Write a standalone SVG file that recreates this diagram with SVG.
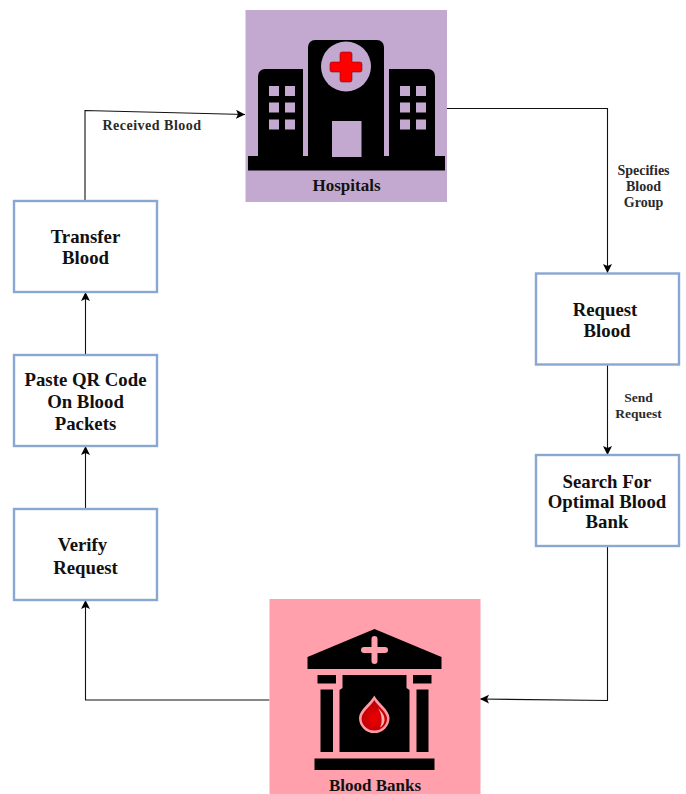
<svg xmlns="http://www.w3.org/2000/svg" width="686" height="794" viewBox="0 0 686 794">
<style>
.box{fill:#fff;stroke:#8aa6d3;stroke-width:2.4}
.t{font-family:"Liberation Serif","Times New Roman",serif;font-weight:bold;text-anchor:middle;fill:#111}
.n{font-size:18.800px}
.l{font-size:14px;fill:#2a2a2a}
.s{font-size:13.500px}
.c{fill:none;stroke:#111;stroke-width:1.1}
</style>
<defs>
<marker id="a" markerUnits="userSpaceOnUse" markerWidth="11" markerHeight="11" refX="9" refY="4.500" orient="auto"><path d="M0 0L9 4.500L0 9L2 4.500Z" fill="#000"/></marker>
<radialGradient id="dr" cx="50%" cy="60%" r="55%"><stop offset="0" stop-color="#f00000"/><stop offset="1" stop-color="#b80008"/></radialGradient>
</defs>
<g id="connectors">
<path class="c" d="M85 200V110.500L245 114.500" marker-end="url(#a)"/>
<path class="c" d="M447 108.500H607.500V273" marker-end="url(#a)"/>
<path class="c" d="M607.500 364V455" marker-end="url(#a)"/>
<path class="c" d="M607.500 546V700.500L480 699" marker-end="url(#a)"/>
<path class="c" d="M269.500 700H85.500V600" marker-end="url(#a)"/>
<path class="c" d="M85.500 509V446" marker-end="url(#a)"/>
<path class="c" d="M85.500 355V292" marker-end="url(#a)"/>
</g>
<g id="label-received"><text class="t l" x="152" y="130" letter-spacing=".5">Received Blood</text></g>
<g id="label-specifies"><text class="t l" x="643.500" y="175">Specifies</text><text class="t l" x="643.500" y="191">Blood</text><text class="t l" x="643.500" y="207">Group</text></g>
<g id="label-send"><text class="t l s" x="638.500" y="402">Send</text><text class="t l s" x="638.500" y="418">Request</text></g>
<g id="hospitals">
<rect x="245.500" y="10" width="201.500" height="192" fill="#c3a9cf"/>
<rect x="248" y="156" width="197" height="14.500" fill="#000"/>
<path d="M258 157V76a7 7 0 0 1 7-7H303V157Z" fill="#000"/>
<path d="M435 157V76a7 7 0 0 0-7-7H389V157Z" fill="#000"/>
<path d="M308 157V47a7 7 0 0 1 7-7H377a7 7 0 0 1 7 7V157Z" fill="#000"/>
<g fill="#c3a9cf">
<circle cx="346" cy="66.500" r="25"/>
<rect x="332" y="121" width="29.500" height="36"/>
<rect x="269" y="86" width="10" height="10"/><rect x="285" y="86" width="10" height="10"/>
<rect x="269" y="102.500" width="10" height="10"/><rect x="285" y="102.500" width="10" height="10"/>
<rect x="269" y="119.500" width="10" height="10"/><rect x="285" y="119.500" width="10" height="10"/>
<rect x="400" y="86" width="10" height="10"/><rect x="416" y="86" width="10" height="10"/>
<rect x="400" y="102.500" width="10" height="10"/><rect x="416" y="102.500" width="10" height="10"/>
<rect x="400" y="119.500" width="10" height="10"/><rect x="416" y="119.500" width="10" height="10"/>
</g>
<path d="M342 52H350a2 2 0 0 1 2 2V62H360a2 2 0 0 1 2 2V70a2 2 0 0 1-2 2H352V80a2 2 0 0 1-2 2H342a2 2 0 0 1-2-2V72H332a2 2 0 0 1-2-2V64a2 2 0 0 1 2-2H340V54a2 2 0 0 1 2-2Z" fill="#f00" stroke="#7a0a20" stroke-width=".6"/>
<text class="t" x="346.500" y="191" font-size="17">Hospitals</text>
</g>
<g id="blood-banks">
<rect x="269.500" y="599" width="211" height="195" fill="#ffa0ac"/>
<path d="M374.500 629L441.500 657V669H307.500V657Z" fill="#000"/>
<path d="M371.500 639a3 3 0 0 1 6 0V647H385a3 3 0 0 1 0 6H377.500V661a3 3 0 0 1-6 0V653H364a3 3 0 0 1 0-6H371.500Z" fill="#ffa0ac"/>
<rect x="317.500" y="675" width="18.500" height="8.500" fill="#000"/>
<rect x="413" y="675" width="18.500" height="8.500" fill="#000"/>
<rect x="320.500" y="689.500" width="12.500" height="62.500" fill="#000"/>
<rect x="416.500" y="689.500" width="12" height="62.500" fill="#000"/>
<path d="M342.500 675H406.500V688L409.500 690V752H339.500V690L342.500 688Z" fill="#000"/>
<rect x="314.500" y="758.500" width="120" height="11.500" fill="#000"/>
<path d="M374.300 695.500C378 703 389.500 710 389.500 718A15.200 15 0 0 1 359 718C359 710 370.500 703 374.300 695.500Z" fill="#ff9aa4"/>
<path d="M374.300 700C377.500 706 387 712 387 718.500A12.700 12 0 0 1 361.600 718.500C361.600 712 371 706 374.300 700Z" fill="url(#dr)"/>
<path d="M378 708C382 712 385 716 384.500 720.500C384 724 382 726.500 380 727.500C382.500 723 382.500 715 378 708Z" fill="#ffb0b0"/>
<text class="t" x="375" y="791" font-size="17">Blood Banks</text>
</g>
<g id="transfer-blood"><rect class="box" x="14" y="201" width="143" height="91"/><text class="t n" x="85.500" y="243">Transfer</text><text class="t n" x="85.500" y="264">Blood</text></g>
<g id="paste-qr"><rect class="box" x="14" y="355" width="143" height="91"/><text class="t n" x="85.500" y="386">Paste QR Code</text><text class="t n" x="85.500" y="408">On Blood</text><text class="t n" x="85.500" y="430">Packets</text></g>
<g id="verify-request"><rect class="box" x="14" y="509" width="143" height="91"/><text class="t n" x="82.500" y="551">Verify</text><text class="t n" x="85.500" y="574">Request</text></g>
<g id="request-blood"><rect class="box" x="536" y="273.500" width="143" height="91"/><text class="t n" x="605" y="316">Request</text><text class="t n" x="607" y="337">Blood</text></g>
<g id="search-bank"><rect class="box" x="536" y="455" width="143" height="91"/><text class="t n" x="607" y="488">Search For</text><text class="t n" x="607" y="508">Optimal Blood</text><text class="t n" x="607" y="528">Bank</text></g>
</svg>
